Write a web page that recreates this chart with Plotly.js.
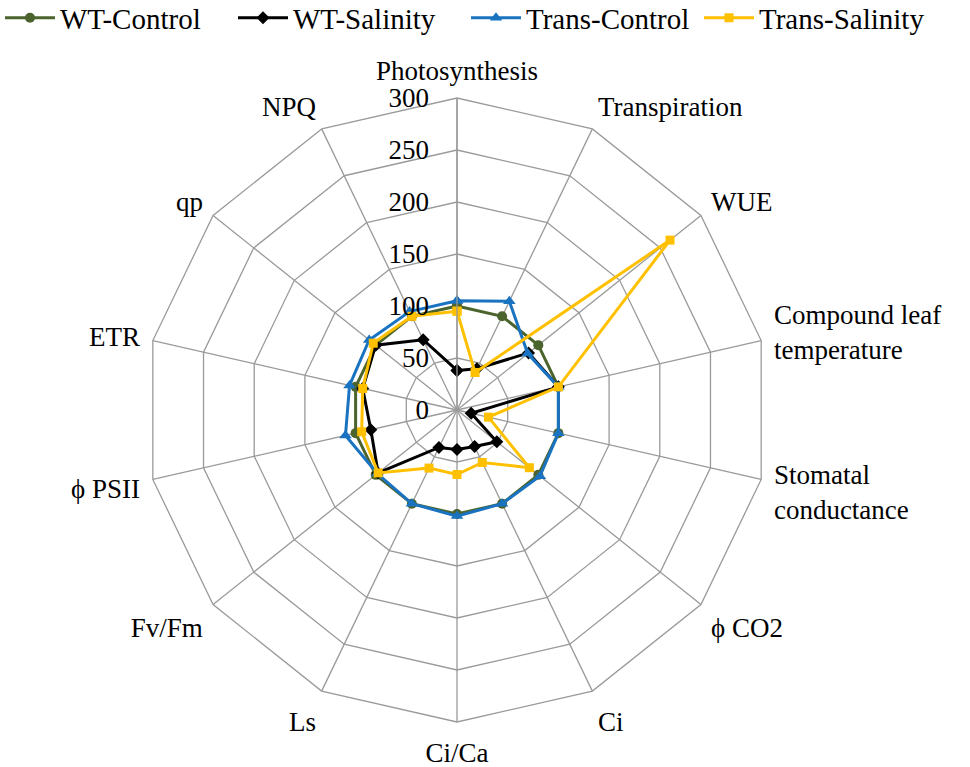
<!DOCTYPE html>
<html>
<head>
<meta charset="utf-8">
<script src="https://cdn.plot.ly/plotly-3.0.1.min.js"></script>
<style>html,body{margin:0;padding:0;background:#fff;}#chart{width:970px;height:767px;}</style>
</head>
<body>
<div id="chart"></div>
<script>
var categories = ['Photosynthesis','Transpiration','WUE','Compound leaf<br>temperature','Stomatal<br>conductance','\u03d5 CO2','Ci','Ci/Ca','Ls','Fv/Fm','\u03d5 PSII','ETR','qp','NPQ'];
var wtControl    = [100, 100, 100, 100, 100, 100, 100, 100, 100, 100, 100, 100, 100, 100];
var wtSalinity   = [38, 44, 88, 100, 14, 49, 39, 38, 40, 97, 85, 93, 100, 75];
var transControl = [105, 116, 87, 100, 100, 102, 100, 102, 100, 98, 110, 106, 108, 105];
var transSalinity= [95, 40, 262, 100, 31, 89, 56, 62, 62, 97, 94, 93, 103, 100];
var radialTicks  = [0, 50, 100, 150, 200, 250, 300];

var FONT = 'Liberation Serif';
function closed(a){ return a.concat([a[0]]); }
function trace(name, vals, color, symbol, size){
  return {
    type:'scatterpolar', mode:'lines+markers', name:name,
    r: closed(vals), theta: closed(categories),
    line:{color:color, width:3},
    marker:{symbol:symbol, size:size, color:color},
    cliponaxis:false
  };
}
var data = [
  trace('WT-Control', wtControl, '#4B632C', 'circle', 10),
  trace('WT-Salinity', wtSalinity, '#000000', 'diamond', 10),
  trace('Trans-Control', transControl, '#1A73C0', 'triangle-up', 11),
  trace('Trans-Salinity', transSalinity, '#FFC000', 'square', 9)
];
var layout = {
  width:970, height:767,
  margin:{l:0,r:0,t:0,b:0,autoexpand:false},
  paper_bgcolor:'#fff',
  font:{family:FONT, size:28, color:'#000'},
  showlegend:true,
  legend:{orientation:'h', x:0, y:1.01, xanchor:'left', yanchor:'top',
          font:{family:FONT, size:29, color:'#000'}, itemwidth:50, tracegroupgap:0,
          entrywidthmode:'pixels', entrywidth:168,
          bgcolor:'rgba(0,0,0,0)'},
  polar:{
    domain:{x:[145/970, 769/970], y:[45/767, 669/767]},
    bgcolor:'#fff',
    gridshape:'linear',
    radialaxis:{
      range:[0,300], tickvals:radialTicks, ticktext:radialTicks.map(String),
      angle:90, side:'counterclockwise', tickangle:90,
      showline:true, linecolor:'#9a9a9a', linewidth:1.3,
      gridcolor:'#9a9a9a', gridwidth:1.3,
      ticks:'outside', ticklen:18, tickcolor:'rgba(0,0,0,0)',
      tickfont:{family:FONT, size:27, color:'#000'}
    },
    angularaxis:{
      direction:'clockwise', rotation:90,
      categoryorder:'array', categoryarray:categories,
      showline:true, linecolor:'#9a9a9a', linewidth:1.3,
      gridcolor:'#9a9a9a', gridwidth:1.3,
      ticks:'outside', ticklen:7, tickcolor:'rgba(0,0,0,0)',
      tickfont:{family:FONT, size:27, color:'#000'}
    }
  }
};
Plotly.newPlot('chart', data, layout, {displayModeBar:false, staticPlot:true});
</script>
</body>
</html>
